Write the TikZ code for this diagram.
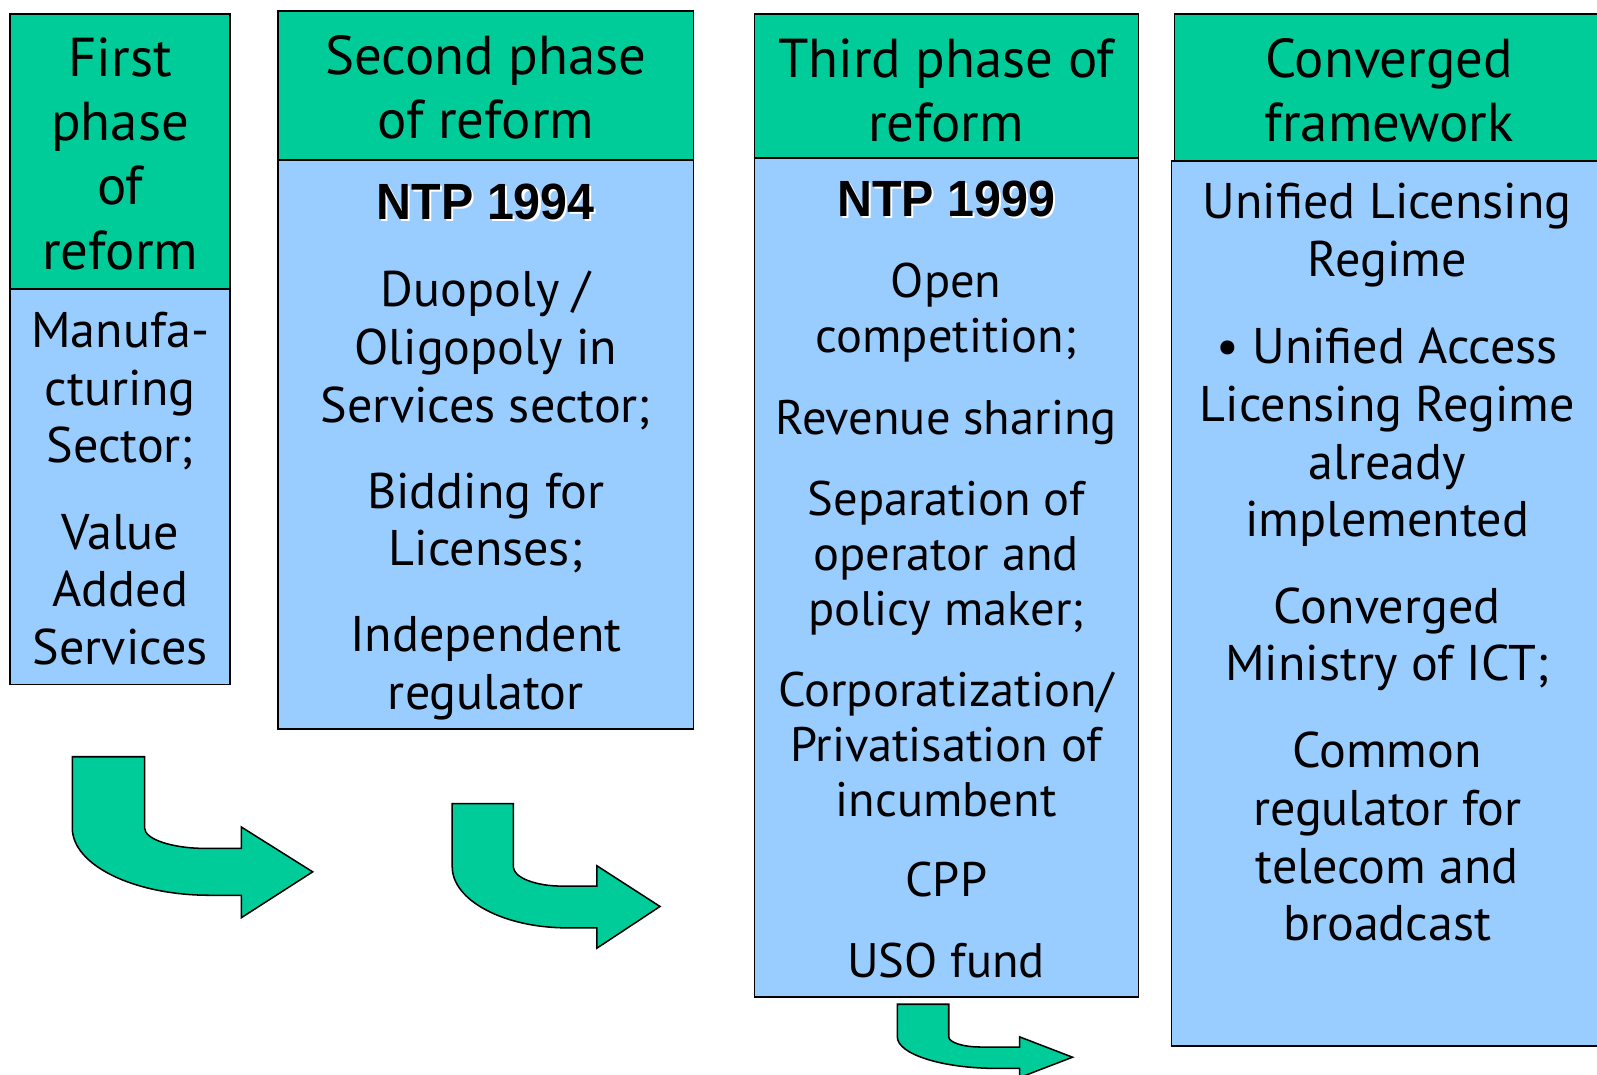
\documentclass[tikz,border=0pt]{standalone}
\usepackage{fontspec}
\setmainfont{PT Sans}
\newfontfamily\ntpfont[FakeStretch=0.95]{Liberation Sans}
\definecolor{hgreen}{RGB}{0,204,153}
\definecolor{lblue}{RGB}{153,204,255}
\tikzset{
  hdr/.style={draw=black, line width=0.75pt, fill=hgreen},
  bodybox/.style={draw=black, line width=0.75pt, fill=lblue},
  bendarrow/.style={draw=black, line width=0.75pt, fill=hgreen, line join=miter},
  htxt/.style={align=center, inner sep=0pt, font=\fontsize{26.9}{31.5}\selectfont},
  btxt/.style={align=center, inner sep=0pt, font=\fontsize{24.6}{28.25}\selectfont},
  ctxt/.style={align=center, inner sep=0pt, font=\fontsize{23.8}{27}\selectfont},
  ntp/.style={inner sep=0pt, font=\ntpfont\bfseries\fontsize{25}{30}\selectfont},
}
\begin{document}
\begin{tikzpicture}[x=0.5pt, y=-0.5pt]
\useasboundingbox (0,0) rectangle (1568,1055);
\clip (0,0) rectangle (1568,1055);

% box 1
\draw[hdr] (10,14) rectangle (226,284);
\draw[bodybox] (10,284) rectangle (226,672);
% box 2
\draw[hdr] (273,11) rectangle (681,157);
\draw[bodybox] (273,157) rectangle (681,716);
% box 3
\draw[hdr] (741,14) rectangle (1118,155);
\draw[bodybox] (741,155) rectangle (1118,979);
% box 4
\draw[hdr] (1153,14) rectangle (1600,158);
\draw[bodybox] (1150,158) rectangle (1600,1027);

% box 1 texts
\node[htxt] (h1) at (118,151) {First\\phase\\of\\reform};
\node[btxt] (b1a) at (118,384) {Manufa-\\cturing\\Sector;};
\node[btxt] (b1b) at (118,579) {Value\\Added\\Services};

% box 2 texts
\node[htxt] (h2) at (477,85.5) {Second phase\\of reform};
\node[ntp, text=white] (n2s) at (479,200) {NTP 1994};
\node[ntp] (n2) at (477,198) {NTP 1994};
\node[btxt] (b2a) at (477,344) {Duopoly /\\Oligopoly in\\Services sector;};
\node[btxt] (b2b) at (477,513.5) {Bidding for\\Licenses;};
\node[btxt] (b2c) at (477,656) {Independent\\regulator};

% box 3 texts
\node[htxt] (h3) at (929,88.5) {Third phase of\\reform};
\node[ntp, text=white] (n3s) at (931,197) {NTP 1999};
\node[ntp] (n3) at (929,195) {NTP 1999};
\node[ctxt] (b3a) at (929,307) {Open\\competition;};
\node[ctxt] (b3b) at (929,415) {Revenue sharing};
\node[ctxt] (b3c) at (929,548) {Separation of\\operator and\\policy maker;};
\node[ctxt] (b3d) at (929,731) {Corporatization/\\Privatisation of\\incumbent};
\node[ctxt] (b3e) at (929,864) {CPP};
\node[ctxt] (b3f) at (929,943) {USO fund};

% box 4 texts
\node[htxt] (h4) at (1364,88.5) {Converged\\framework};
\node[btxt] (b4a) at (1362,231) {Unified Licensing\\Regime};
\node[btxt] (b4b) at (1362,429.5) {• Unified Access\\Licensing Regime\\already\\implemented};
\node[btxt] (b4c) at (1362,627.5) {Converged\\Ministry of ICT;};
\node[btxt] (b4d) at (1362,821.5) {Common\\regulator for\\telecom and\\broadcast};

% bent arrows
\draw[bendarrow] (71,743) -- (142,743) -- (142,813)
  .. controls (142,824) and (169,833) .. (202,833)
  -- (237,833) -- (237,812) -- (307,856) -- (237,901) -- (237,879) -- (206,879)
  .. controls (131.5,879) and (71,849.4) .. (71,813) -- cycle;

\draw[bendarrow] (444,789) -- (504,789) -- (504,851)
  .. controls (504,861.5) and (525.5,870) .. (552,870)
  -- (586,870) -- (586,850) -- (648,890) -- (586,931) -- (586,911) -- (557,911)
  .. controls (494.6,911) and (444,884) .. (444,851) -- cycle;

\draw[bendarrow] (881,986) -- (931.5,986) -- (931.5,1018)
  .. controls (931.5,1023.5) and (945.6,1028) .. (963,1028)
  -- (1001,1028) -- (1001,1018) -- (1053,1038) -- (1001,1058) -- (1001,1049) -- (979,1049)
  .. controls (925,1049) and (881,1035) .. (881,1018) -- cycle;
\end{tikzpicture}
\end{document}
